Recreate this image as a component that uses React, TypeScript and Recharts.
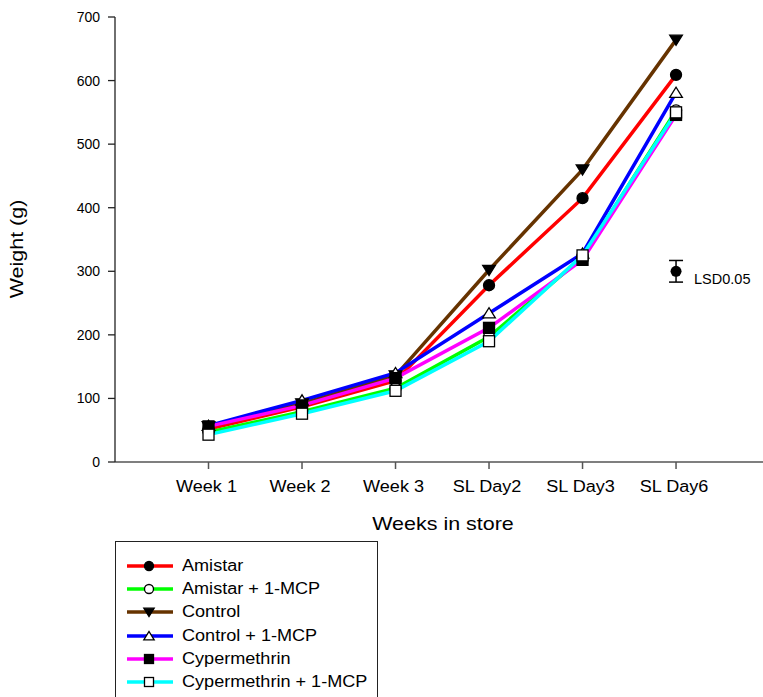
import React from 'react';
import { LineChart, Line, XAxis, YAxis, ErrorBar } from 'recharts';

const categories = ['Week 1', 'Week 2', 'Week 3', 'SL Day2', 'SL Day3', 'SL Day6'];
const amistar = [52, 87, 128, 278, 415, 609];
const amistarMcp = [47, 79, 116, 197, 322, 553];
const control = [56, 92, 136, 302, 460, 664];
const controlMcp = [57, 97, 140, 234, 328, 581];
const cypermethrin = [56, 89, 132, 211, 318, 546];
const cypermethrinMcp = [43, 76, 112, 190, 325, 550];
const yTicks = [0, 100, 200, 300, 400, 500, 600, 700];
const lsdPoint = [{ x: 6, lsd: 300, lsdErr: 17 }];
const lsdLabel = 'LSD0.05';

type Shape = 'circle' | 'triangleDown' | 'triangleUp' | 'square';

const series: { key: string; name: string; color: string; shape: Shape; filled: boolean; values: number[] }[] = [
  { key: 'amistar', name: 'Amistar', color: '#ff0000', shape: 'circle', filled: true, values: amistar },
  { key: 'amistarMcp', name: 'Amistar + 1-MCP', color: '#00ff00', shape: 'circle', filled: false, values: amistarMcp },
  { key: 'control', name: 'Control', color: '#663300', shape: 'triangleDown', filled: true, values: control },
  { key: 'controlMcp', name: 'Control + 1-MCP', color: '#0000ff', shape: 'triangleUp', filled: false, values: controlMcp },
  { key: 'cypermethrin', name: 'Cypermethrin', color: '#ff00ff', shape: 'square', filled: true, values: cypermethrin },
  { key: 'cypermethrinMcp', name: 'Cypermethrin + 1-MCP', color: '#00ffff', shape: 'square', filled: false, values: cypermethrinMcp },
];

const data = categories.map((c, i) => {
  const row: any = { x: i + 1, name: c };
  series.forEach((s) => {
    row[s.key] = s.values[i];
  });
  return row;
});

const FONT = 'Arial, "Liberation Sans", sans-serif';
const STRETCH = 1.13;

function Marker({ cx, cy, shape, filled, size }: { cx: number; cy: number; shape: Shape; filled: boolean; size: number }) {
  const fill = filled ? '#000' : '#fff';
  const stroke = '#000';
  const sw = 1.3;
  const h = size / 2;
  if (shape === 'circle') return <circle cx={cx} cy={cy} r={h} fill={fill} stroke={stroke} strokeWidth={sw} />;
  if (shape === 'square') return <rect x={cx - h} y={cy - h} width={size} height={size} fill={fill} stroke={stroke} strokeWidth={sw} />;
  if (shape === 'triangleDown')
    return <polygon points={`${cx - h * 1.15},${cy - h * 0.85} ${cx + h * 1.15},${cy - h * 0.85} ${cx},${cy + h * 1.0}`} fill={fill} stroke={stroke} strokeWidth={sw} />;
  return <polygon points={`${cx - h * 1.15},${cy + h * 0.85} ${cx + h * 1.15},${cy + h * 0.85} ${cx},${cy - h * 1.0}`} fill={fill} stroke={stroke} strokeWidth={sw} />;
}

const XTick = (props: any) => {
  const { x, y, payload } = props;
  return (
    <text
      transform={`translate(${x - 2}, ${y}) scale(${STRETCH}, 1)`}
      x={0}
      y={0}
      textAnchor="middle"
      dominantBaseline="hanging"
      fontSize={16}
      fontFamily={FONT}
      fill="#000"
    >
      {categories[payload.value - 1]}
    </text>
  );
};

const YTitle = () => {
  const x = 23;
  const y = 249;
  return (
    <text transform={`translate(${x}, ${y}) rotate(-90) scale(${STRETCH}, 1)`} x={0} y={0} textAnchor="middle" fontSize={19} fontFamily={FONT} fill="#000">
      Weight (g)
    </text>
  );
};

const XTitle = () => (
  <text transform={`translate(443, 530) scale(${STRETCH}, 1)`} x={0} y={0} textAnchor="middle" fontSize={19} fontFamily={FONT} fill="#000">
    Weeks in store
  </text>
);

const LsdLabel = (props: any) => {
  const { x, y } = props;
  return (
    <text x={x + 18} y={y + 13} fontSize={14.5} fontFamily={FONT} fill="#000">
      {lsdLabel}
    </text>
  );
};

export default function App() {
  return (
    <div style={{ position: 'absolute', left: 0, top: 0, width: 763, height: 697, overflow: 'hidden', background: '#fff', fontFamily: FONT }}>
      <LineChart width={763} height={540} data={data} margin={{ top: 17, right: 0, left: 0, bottom: 8 }}>
        <XAxis
          dataKey="x"
          type="number"
          domain={[0, 6.93]}
          ticks={[1, 2, 3, 4, 5, 6]}
          allowDataOverflow
          height={70}
          tickSize={7}
          tickMargin={12}
          tick={<XTick />}
          axisLine={{ stroke: '#555', strokeWidth: 1.5 }}
          tickLine={{ stroke: '#555', strokeWidth: 1.5 }}
          label={<XTitle />}
        />
        <YAxis
          type="number"
          domain={[0, 700]}
          ticks={yTicks}
          width={115}
          tickSize={7}
          tickMargin={8}
          tick={{ fontSize: 14, fontFamily: FONT, fill: '#000' }}
          axisLine={{ stroke: '#222', strokeWidth: 1.3 }}
          tickLine={{ stroke: '#222', strokeWidth: 1.3 }}
          label={<YTitle />}
        />
        {series.map((s) => (
          <Line
            key={s.key}
            dataKey={s.key}
            name={s.name}
            stroke={s.color}
            strokeWidth={3.5}
            isAnimationActive={false}
            dot={(p: any) => <Marker key={`${s.key}-${p.index}`} cx={p.cx} cy={p.cy} shape={s.shape} filled={s.filled} size={11} />}
            activeDot={false}
          />
        ))}
        <Line
          data={lsdPoint}
          dataKey="lsd"
          stroke="none"
          isAnimationActive={false}
          dot={(p: any) => <circle key={`lsd-${p.index}`} cx={p.cx} cy={p.cy} r={5.5} fill="#000" />}
          activeDot={false}
          label={<LsdLabel />}
        >
          <ErrorBar dataKey="lsdErr" width={7} stroke="#000" strokeWidth={1.5} direction="y" />
        </Line>
      </LineChart>
      <div
        style={{
          position: 'absolute',
          left: 115,
          top: 541,
          width: 263,
          height: 200,
          border: '1.5px solid #222',
          boxSizing: 'border-box',
        }}
      >
        {series.map((s, i) => (
          <div key={s.key} style={{ position: 'absolute', left: 0, top: 13 + i * 23.2, height: 22, display: 'flex', alignItems: 'center' }}>
            <svg width={66} height={22} style={{ display: 'block' }}>
              <line x1={11} y1={11} x2={57} y2={11} stroke={s.color} strokeWidth={3.5} />
              <Marker cx={33} cy={11} shape={s.shape} filled={s.filled} size={9} />
            </svg>
            <span
              style={{
                fontSize: 16,
                fontFamily: FONT,
                color: '#000',
                whiteSpace: 'nowrap',
                display: 'inline-block',
                transform: `scaleX(${STRETCH})`,
                transformOrigin: 'left center',
              }}
            >
              {s.name}
            </span>
          </div>
        ))}
      </div>
    </div>
  );
}
